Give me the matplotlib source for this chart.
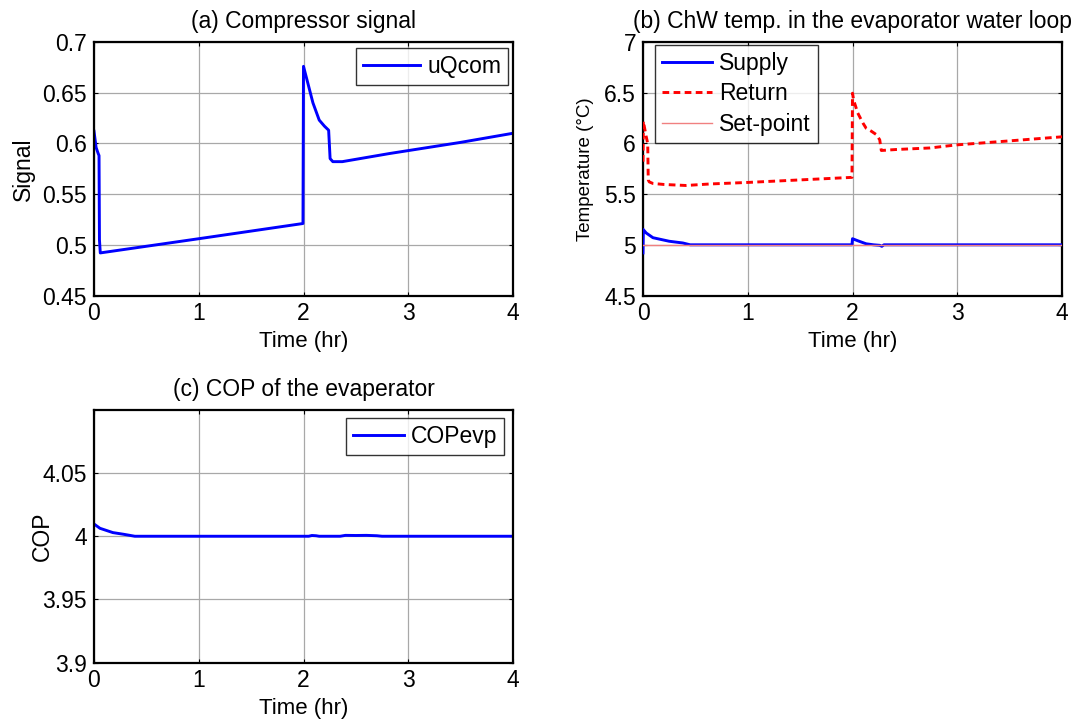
import matplotlib
matplotlib.use("Agg")
import matplotlib.pyplot as plt

plt.rcParams['font.family'] = ['Liberation Sans', 'DejaVu Sans']

# ---------------- data ----------------
# (a) compressor signal
t_u = [0.0, 0.02, 0.04, 0.048, 0.052, 0.06, 1.0, 1.995, 2.0, 2.05, 2.09, 2.15, 2.2, 2.24, 2.254, 2.28, 2.37, 2.82, 3.5, 4.0]
uQcom = [0.612, 0.596, 0.590, 0.588, 0.505, 0.492, 0.506, 0.521, 0.676, 0.656, 0.640, 0.623, 0.617, 0.613, 0.585, 0.582, 0.582, 0.590, 0.601, 0.610]

# (b) chilled water temperatures
t_ret = [0.0, 0.003, 0.03, 0.045, 0.05, 0.06, 0.095, 0.2, 0.41, 0.64, 1.0, 1.5, 1.995, 2.0, 2.01, 2.05, 2.10, 2.13, 2.18, 2.23, 2.26, 2.275, 2.42, 2.74, 2.99, 3.5, 4.0]
ret = [5.82, 6.22, 6.07, 6.00, 5.64, 5.62, 5.605, 5.595, 5.585, 5.60, 5.615, 5.64, 5.665, 6.495, 6.43, 6.30, 6.20, 6.15, 6.12, 6.085, 6.035, 5.93, 5.94, 5.955, 5.985, 6.025, 6.065]
t_sup = [0.0, 0.003, 0.03, 0.095, 0.25, 0.38, 0.45, 1.995, 2.0, 2.05, 2.13, 2.2, 2.26, 2.28, 2.3, 4.0]
sup = [4.92, 5.15, 5.117, 5.07, 5.035, 5.018, 5.0, 5.0, 5.06, 5.04, 5.01, 5.0, 4.995, 4.985, 5.0, 5.0]
t_sp = [0.0, 4.0]
setpoint = [5.0, 5.0]

# (c) COP of the evaporator
t_cop = [0.0, 0.057, 0.18, 0.28, 0.39, 2.05, 2.08, 2.12, 2.15, 2.35, 2.4, 2.5, 2.6, 2.7, 2.75, 4.0]
cop = [4.0097, 4.0063, 4.0029, 4.0016, 4.0, 4.0, 4.0006, 4.0004, 4.0, 4.0, 4.0007, 4.0006, 4.0007, 4.0004, 4.0, 4.0]

xticks = [0, 1, 2, 3, 4]
yt_a = [0.45, 0.5, 0.55, 0.6, 0.65, 0.7]
yl_a = ['0.45', '0.5', '0.55', '0.6', '0.65', '0.7']
yt_b = [4.5, 5, 5.5, 6, 6.5, 7]
yl_b = ['4.5', '5', '5.5', '6', '6.5', '7']
yt_c = [3.9, 3.95, 4.0, 4.05]
yl_c = ['3.9', '3.95', '4', '4.05']

# ---------------- figure ----------------
fig = plt.figure(figsize=(10.8, 7.27), dpi=100)
W, H = 1080, 727

def mk_ax(l, t, r, b):
    return fig.add_axes([l / W, 1 - b / H, (r - l) / W, (b - t) / H])

ax_a = mk_ax(94, 42, 513, 295.5)
ax_b = mk_ax(643, 42, 1062, 295.5)
ax_c = mk_ax(94, 410, 513, 662.5)

FS = 16.5
def style(ax, yt, yl, ylim):
    ax.set_xlim(0, 4)
    ax.set_ylim(*ylim)
    ax.set_xticks(xticks)
    ax.set_xticklabels([str(x) for x in xticks])
    ax.set_yticks(yt)
    ax.set_yticklabels(yl)
    ax.tick_params(direction='in', length=3, width=0.8, labelsize=FS, top=True, right=True)
    ax.tick_params(axis='y', pad=5)
    ax.tick_params(axis='x', pad=4.5)
    ax.grid(True, color='#a8a8a8', linewidth=0.9)
    ax.set_axisbelow(True)
    for s in ax.spines.values():
        s.set_linewidth(1.6)
    ax.set_xlabel('Time (hr)', fontsize=16)
    ax.xaxis.set_label_coords(0.5, -0.142)

def legend(ax, loc, anchor, fs=FS, hl=2.2):
    leg = ax.legend(loc=loc, bbox_to_anchor=anchor, borderaxespad=0, fontsize=fs,
                    frameon=True, fancybox=False, edgecolor='black',
                    handlelength=hl, handletextpad=0.3, borderpad=0.3, labelspacing=0.33)
    leg.get_frame().set_linewidth(1.0)
    return leg

# (a)
ax_a.plot(t_u, uQcom, color='#0000ff', lw=2.1, label='uQcom')
style(ax_a, yt_a, yl_a, (0.45, 0.7))
ax_a.set_title('(a) Compressor signal', fontsize=FS, pad=10)
ax_a.set_ylabel('Signal', fontsize=FS)
ax_a.yaxis.set_label_coords(-0.14, 0.5)
legend(ax_a, 'upper right', (1 - 5 / 419, 1 - 6 / 253.5), hl=2.5)

# (b)
ax_b.plot(t_sup, sup, color='#0000ff', lw=2.1, label='Supply', zorder=3)
ax_b.plot(t_ret, ret, color='#ff0000', lw=2.1, ls=(0, (2.3, 1.5)), label='Return', zorder=3)
ax_b.plot(t_sp, setpoint, color='#f08080', lw=1.0, label='Set-point', zorder=4)
style(ax_b, yt_b, yl_b, (4.5, 7))
ax_b.set_title('(b) ChW temp. in the evaporator water loop', fontsize=FS, pad=10)
ax_b.set_ylabel('Temperature (°C)', fontsize=13.5)
ax_b.yaxis.set_label_coords(-0.117, 0.5)
legend(ax_b, 'upper left', (12 / 419, 1 - 3 / 253.5))

# (c)
ax_c.plot(t_cop, cop, color='#0000ff', lw=2.1, label='COPevp')
style(ax_c, yt_c, yl_c, (3.9, 4.1))
ax_c.set_title('(c) COP of the evaperator', fontsize=FS, pad=10)
ax_c.set_ylabel('COP', fontsize=FS)
ax_c.yaxis.set_label_coords(-0.095, 0.5)
legend(ax_c, 'upper right', (410 / 419, 1 - 8 / 252.7))

fig.savefig('out.png', dpi=100)
